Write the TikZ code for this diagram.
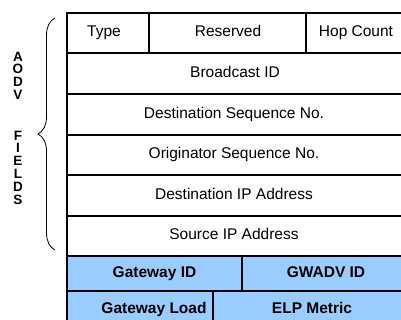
\documentclass[tikz,border=0pt]{standalone}
\usepackage{fontspec}
\setmainfont{Liberation Sans}
\usetikzlibrary{decorations.pathreplacing}

\definecolor{gwblue}{RGB}{153,204,255}

\tikzset{
  cell/.style={draw, line width=1.3pt},
  fieldtxt/.style={font=\fontsize{15.5}{18}\selectfont, text height=11pt, text depth=3pt},
  gwtxt/.style={font=\fontsize{15.5}{18}\selectfont\bfseries, text height=11pt, text depth=3pt},
  sidetxt/.style={font=\fontsize{13.5}{12.8}\selectfont\bfseries, align=center, inner sep=0pt},
}

\begin{document}
\begin{tikzpicture}[x=1pt,y=-1pt]
\useasboundingbox (0,0) rectangle (401,320);

% 1行目
\draw[cell] (67,13) rectangle (149,53);
\draw[cell] (149,13) rectangle (306,53);
\draw[cell] (306,13) rectangle (404,53);
\node[fieldtxt] (type) at (104,33) {Type};
\node[fieldtxt] (reserved) at (228,33) {Reserved};
\node[fieldtxt] (hopcount) at (356,33) {Hop Count};

% ブロードキャストID
\draw[cell] (67,53) rectangle (404,94);
\node[fieldtxt] (bcastid) at (235,73.5) {Broadcast ID};

% 宛先シーケンス番号
\draw[cell] (67,94) rectangle (404,135);
\node[fieldtxt] (dstseq) at (234,114.5) {Destination Sequence No.};

% 送信元シーケンス番号
\draw[cell] (67,135) rectangle (404,175);
\node[fieldtxt] (origseq) at (234,155) {Originator Sequence No.};

% 宛先IPアドレス
\draw[cell] (67,175) rectangle (404,216);
\node[fieldtxt] (dstip) at (234,195.5) {Destination IP Address};

% 送信元IPアドレス
\draw[cell] (67,216) rectangle (404,256);
\node[fieldtxt] (srcip) at (234,236) {Source IP Address};

% ゲートウェイ欄
\draw[cell, fill=gwblue] (67,256) rectangle (242,291);
\draw[cell, fill=gwblue] (242,256) rectangle (404,291);
\node[gwtxt] (gwid) at (154.5,273.5) {Gateway ID};
\node[gwtxt] (gwadvid) at (326,273.5) {GWADV ID};

\draw[cell, fill=gwblue] (67,291) rectangle (213,328);
\draw[cell, fill=gwblue] (213,291) rectangle (404,328);
\node[gwtxt] (gwload) at (154,309) {Gateway Load};
\node[gwtxt] (elp) at (312,309) {ELP Metric};

% 括弧
\draw[line width=0.8pt, decorate, decoration={brace, amplitude=17pt}] (55,250) -- (55,18);

% 縦書きラベル
\node[sidetxt] (aodv) at (18,75.7) {A\\O\\D\\V};
\node[sidetxt] (fields) at (18,167.5) {F\\I\\E\\L\\D\\S};

\end{tikzpicture}
\end{document}
